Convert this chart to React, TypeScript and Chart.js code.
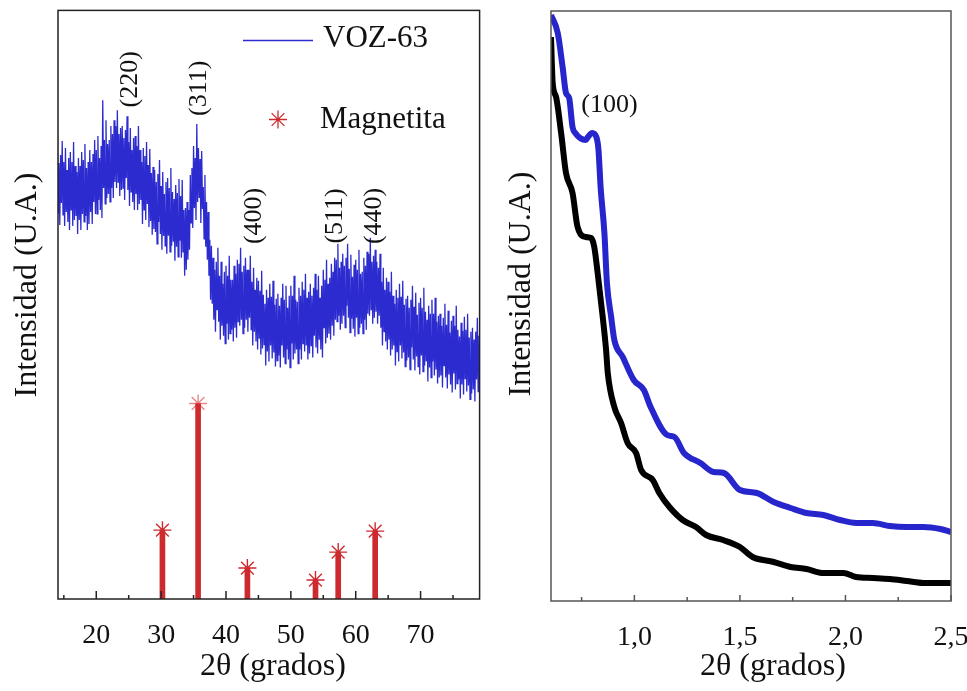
import React, { useEffect, useRef } from "react";
import { Chart, registerables } from "chart.js";
Chart.register(...registerables);

const SERIF = '"Liberation Serif", "Times New Roman", serif';

// ---------- Left panel: wide-angle XRD ----------
const xrdAngleStart = 14;
const xrdAngleStep = 0.125;
const xrdIntensity = [
  475, 387, 437, 375, 445, 397, 459, 385, // 14
  438, 374, 452, 388, 430, 378, 442, 370, // 15
  448, 390, 438, 374, 458, 380, 434, 384, // 16
  428, 366, 442, 380, 434, 370, 448, 386, // 17
  440, 378, 456, 384, 432, 370, 438, 376, // 18
  450, 388, 438, 376, 446, 398, 460, 386, // 19
  450, 386, 464, 400, 442, 390, 454, 382, // 20
  500, 412, 460, 396, 480, 402, 456, 406, // 21
  460, 398, 474, 412, 466, 402, 480, 418, // 22
  474, 412, 490, 418, 466, 404, 472, 410, // 23
  474, 412, 462, 400, 470, 422, 484, 410, // 24
  458, 394, 472, 408, 450, 398, 462, 390, // 25
  464, 406, 454, 390, 474, 396, 450, 400, // 26
  438, 376, 452, 390, 444, 380, 458, 396, // 27
  435, 373, 451, 379, 427, 365, 433, 371, // 28
  430, 368, 418, 356, 426, 378, 440, 366, // 29
  414, 350, 428, 364, 406, 354, 418, 346, // 30
  422, 364, 412, 348, 432, 354, 408, 358, // 31
  401, 339, 415, 353, 407, 343, 421, 359, // 32
  404, 342, 420, 348, 390, 324, 392, 330, // 33
  398, 340, 390, 350, 425, 377, 432, 372, // 34
  454, 392, 442, 380, 476, 398, 452, 402, // 35
  441, 377, 449, 391, 413, 361, 425, 353, // 36
  398, 340, 388, 324, 360, 300, 354, 296, // 37
  342, 280, 330, 268, 338, 290, 352, 278, // 38
  324, 260, 338, 274, 316, 264, 328, 256, // 39
  334, 276, 324, 260, 344, 266, 320, 270, // 40
  320, 258, 334, 272, 326, 262, 340, 278, // 41
  336, 274, 352, 280, 328, 266, 334, 272, // 42
  342, 280, 330, 268, 330, 282, 344, 270, // 43
  318, 254, 332, 268, 310, 258, 322, 250, // 44
  319, 261, 309, 245, 329, 251, 305, 255, // 45
  296, 234, 310, 248, 302, 238, 316, 254, // 46
  303, 241, 319, 247, 295, 233, 301, 239, // 47
  306, 244, 294, 232, 302, 254, 316, 242, // 48
  300, 236, 314, 250, 292, 240, 304, 232, // 49
  314, 256, 304, 240, 324, 246, 300, 250, // 50
  298, 236, 312, 250, 304, 240, 318, 256, // 51
  310, 248, 326, 254, 302, 240, 308, 246, // 52
  316, 254, 304, 242, 312, 264, 326, 252, // 53
  310, 246, 324, 260, 302, 250, 314, 242, // 54
  330, 272, 320, 256, 340, 262, 316, 266, // 55
  322, 260, 336, 274, 328, 264, 342, 280, // 56
  340, 278, 356, 284, 332, 270, 338, 276, // 57
  346, 284, 334, 272, 342, 294, 356, 282, // 58
  331, 267, 345, 281, 323, 271, 335, 263, // 59
  340, 282, 330, 266, 350, 272, 326, 276, // 60
  328, 266, 342, 280, 334, 270, 348, 286, // 61
  346, 284, 362, 290, 338, 276, 344, 282, // 62
  350, 288, 338, 276, 332, 284, 346, 272, // 63
  318, 254, 332, 268, 310, 258, 322, 250, // 64
  318, 260, 308, 244, 328, 250, 304, 254, // 65
  296, 234, 310, 248, 302, 238, 316, 254, // 66
  303, 241, 319, 247, 295, 233, 301, 239, // 67
  304, 242, 292, 230, 300, 252, 314, 240, // 68
  293, 229, 307, 243, 285, 233, 297, 225, // 69
  302, 244, 292, 228, 312, 234, 288, 238, // 70
  280, 218, 294, 232, 286, 222, 300, 238, // 71
  286, 224, 302, 230, 278, 216, 284, 222, // 72
  286, 224, 274, 212, 282, 234, 296, 222, // 73
  275, 211, 289, 225, 267, 215, 279, 207, // 74
  284, 226, 274, 210, 294, 216, 270, 220, // 75
  263, 201, 277, 215, 269, 205, 283, 221, // 76
  270, 208, 286, 214, 262, 200, 268, 206, // 77
  272, 210, 260, 198, 268, 220, 282, 208, // 78
  264, 206, 270, // 79
];

const magnetitaAngles = [30.2, 35.7, 43.3, 53.8, 57.3, 63.0];
const magnetitaIntensity = [69, 196, 31, 19, 47, 68];

const leftMajorTicks = [20, 30, 40, 50, 60, 70];
const leftMinorTicks = [15, 25, 35, 45, 55, 65, 75];

const peakLabels = ["(220)", "(311)", "(400)", "(511)", "(440)"];
const peakLabelAngles = [25.3, 35.8, 44.4, 56.8, 62.9];
const peakLabelLevels = [521, 512, 384, 384, 384];

// ---------- Right panel: low-angle XRD ----------
const lowAnglesBlue = [
  0.605, 0.637, 0.66, 0.676, 0.691, 0.707, 0.72, 0.77, 0.78, 0.8, 0.82, 0.83, 0.84, 0.858, 0.87,
  0.89, 0.905, 0.945, 0.997, 1.045, 1.077, 1.155, 1.19, 1.235, 1.313, 1.376, 1.424, 1.5, 1.58,
  1.66, 1.74, 1.815, 1.895, 1.974, 2.052, 2.13, 2.21, 2.29, 2.37, 2.45, 2.5,
];
const lowIntensityBlue = [
  586, 568, 534, 508, 503, 474, 468, 461, 464, 468, 464, 451, 414, 368, 318,
  284, 261, 244, 221, 211, 194, 166, 164, 148, 138, 129, 128, 111, 108,
  99, 93, 88, 86, 81, 78, 78, 75, 74, 74, 72, 69,
];
const lowAnglesBlack = [
  0.605, 0.613, 0.629, 0.653, 0.676, 0.707, 0.731, 0.77, 0.795, 0.81, 0.826, 0.85, 0.866, 0.874,
  0.905, 0.937, 0.968, 1.008, 1.032, 1.087, 1.118, 1.166, 1.229, 1.292, 1.34, 1.42, 1.5, 1.56,
  1.66, 1.74, 1.815, 1.895, 1.99, 2.05, 2.13, 2.21, 2.29, 2.37, 2.5,
];
const lowIntensityBlack = [
  564, 518, 504, 468, 428, 408, 374, 364, 363, 354, 328, 284, 251, 228,
  194, 178, 158, 148, 131, 121, 108, 94, 81, 74, 66, 61, 54, 44,
  39, 34, 32, 28, 28, 24, 23, 22, 20, 18, 18,
];

const rightMajorTicks = [1.0, 1.5, 2.0, 2.5];
const rightMinorTicks = [0.75, 1.25, 1.75, 2.25];

const BLUE = "#2b2bd0";
const RED = "#cd2a2f";

type TextItem = { text: string; x: number; y: number; rotate: boolean; size: number };

type DecorCfg = {
  frameColor: string;
  majorTicks: number[];
  minorTicks: number[];
  majorLen: number;
  minorLen: number;
  yTitle: string;
  yTitleX: number;
  yTitleY: number;
  xTitle: string;
  xTitleX: number;
  xTitleY: number;
  labels: TextItem[];
  legend?: boolean;
};

function drawStar(ctx: CanvasRenderingContext2D, x: number, y: number, r: number) {
  ctx.beginPath();
  for (let k = 0; k < 4; k++) {
    const a = (k * Math.PI) / 4;
    ctx.moveTo(x - r * Math.cos(a), y - r * Math.sin(a));
    ctx.lineTo(x + r * Math.cos(a), y + r * Math.sin(a));
  }
  ctx.stroke();
}

function decorPlugin(cfg: DecorCfg) {
  return {
    id: "decor",
    afterDraw(chart: any) {
      const ctx: CanvasRenderingContext2D = chart.ctx;
      const { left, right, top, bottom } = chart.chartArea;
      const xs = chart.scales.x;
      const ys = chart.scales.y;
      ctx.save();
      ctx.strokeStyle = cfg.frameColor;
      ctx.lineWidth = 1.5;
      ctx.strokeRect(left, top, right - left, bottom - top);
      ctx.beginPath();
      cfg.majorTicks.forEach((v) => {
        const p = xs.getPixelForValue(v);
        ctx.moveTo(p, bottom);
        ctx.lineTo(p, bottom - cfg.majorLen);
      });
      cfg.minorTicks.forEach((v) => {
        const p = xs.getPixelForValue(v);
        ctx.moveTo(p, bottom);
        ctx.lineTo(p, bottom - cfg.minorLen);
      });
      ctx.stroke();
      ctx.fillStyle = "#111";
      ctx.font = `32px ${SERIF}`;
      ctx.textAlign = "center";
      ctx.textBaseline = "middle";
      ctx.fillText(cfg.xTitle, cfg.xTitleX, cfg.xTitleY);
      ctx.save();
      ctx.translate(cfg.yTitleX, cfg.yTitleY);
      ctx.rotate(-Math.PI / 2);
      ctx.fillText(cfg.yTitle, 0, 0);
      ctx.restore();
      cfg.labels.forEach((l) => {
        const px = xs.getPixelForValue(l.x);
        const py = ys.getPixelForValue(l.y);
        ctx.font = `${l.size}px ${SERIF}`;
        ctx.save();
        ctx.translate(px, py);
        if (l.rotate) ctx.rotate(-Math.PI / 2);
        ctx.fillText(l.text, 0, 0);
        ctx.restore();
      });
      if (cfg.legend) {
        const ds = chart.data.datasets;
        ctx.font = `31px ${SERIF}`;
        ctx.textAlign = "left";
        ctx.strokeStyle = ds[0].borderColor;
        ctx.lineWidth = 1.5;
        ctx.beginPath();
        ctx.moveTo(243, 40.5);
        ctx.lineTo(313, 40.5);
        ctx.stroke();
        ctx.fillText(ds[0].label, 323, 39);
        ctx.strokeStyle = RED;
        ctx.lineWidth = 1.3;
        drawStar(ctx, 278, 119.5, 9);
        ctx.fillText(ds[2].label, 320, 120);
      }
      ctx.restore();
    },
  };
}

function LeftPanel() {
  const ref = useRef<HTMLCanvasElement>(null);
  useEffect(() => {
    const xrdPoints = xrdIntensity.map((v, i) => ({ x: xrdAngleStart + i * xrdAngleStep, y: v }));
    const stickPoints = magnetitaAngles.map((a, i) => ({ x: a, y: magnetitaIntensity[i] }));
    const labels: TextItem[] = peakLabels.map((t, i) => ({
      text: t,
      x: peakLabelAngles[i],
      y: peakLabelLevels[i],
      rotate: true,
      size: 26,
    }));
    const chart = new Chart(ref.current!, {
      type: "line",
      data: {
        datasets: [
          {
            label: "VOZ-63",
            data: xrdPoints,
            borderColor: BLUE,
            borderWidth: 1.3,
            pointRadius: 0,
            tension: 0,
          },
          {
            type: "bar",
            label: "Magnetita sticks",
            data: stickPoints,
            backgroundColor: RED,
            barThickness: 5,
            grouped: false,
          } as any,
          {
            label: "Magnetita",
            data: stickPoints,
            showLine: false,
            pointStyle: "star",
            pointRadius: 9,
            pointBorderWidth: 1.4,
            pointBorderColor: [RED, "#e8868a", RED, RED, RED, RED],
            pointBackgroundColor: RED,
          },
        ],
      },
      options: {
        animation: false,
        responsive: true,
        maintainAspectRatio: false,
        layout: { padding: { left: 58, right: 7, top: 9, bottom: 0 } },
        plugins: { legend: { display: false }, tooltip: { enabled: false } },
        scales: {
          x: {
            type: "linear",
            min: 14.1,
            max: 79.1,
            offset: false,
            grid: { display: false },
            border: { display: false },
            afterBuildTicks: (s: any) => {
              s.ticks = leftMajorTicks.map((v) => ({ value: v }));
            },
            afterFit: (s: any) => {
              s.height = 92;
            },
            ticks: {
              font: { family: SERIF, size: 28 },
              color: "#111",
              padding: 12,
              maxRotation: 0,
              autoSkip: false,
            },
          },
          y: {
            display: false,
            min: 0,
            max: 590,
          },
        },
      },
      plugins: [
        decorPlugin({
          frameColor: "#222",
          majorTicks: leftMajorTicks,
          minorTicks: leftMinorTicks,
          majorLen: 8,
          minorLen: 4,
          yTitle: "Intensidad (U.A.)",
          yTitleX: 28,
          yTitleY: 285,
          xTitle: "2θ (grados)",
          xTitleX: 273,
          xTitleY: 667,
          labels,
          legend: true,
        }),
      ],
    });
    return () => chart.destroy();
  }, []);
  return (
    <div style={{ position: "absolute", left: 0, top: 0, width: 490, height: 691 }}>
      <canvas ref={ref} />
    </div>
  );
}

function RightPanel() {
  const ref = useRef<HTMLCanvasElement>(null);
  useEffect(() => {
    const blue = lowAnglesBlue.map((a, i) => ({ x: a, y: lowIntensityBlue[i] }));
    const black = lowAnglesBlack.map((a, i) => ({ x: a, y: lowIntensityBlack[i] }));
    const chart = new Chart(ref.current!, {
      type: "line",
      data: {
        datasets: [
          {
            label: "VOZ-63",
            data: blue,
            borderColor: "#2626cc",
            borderWidth: 6,
            pointRadius: 0,
            cubicInterpolationMode: "monotone",
          },
          {
            label: "Referencia",
            data: black,
            borderColor: "#000",
            borderWidth: 6,
            pointRadius: 0,
            cubicInterpolationMode: "monotone",
          },
        ],
      },
      options: {
        animation: false,
        responsive: true,
        maintainAspectRatio: false,
        layout: { padding: { left: 61, right: 39, top: 11, bottom: 0 } },
        plugins: { legend: { display: false }, tooltip: { enabled: false } },
        scales: {
          x: {
            type: "linear",
            min: 0.605,
            max: 2.5,
            offset: false,
            grid: { display: false },
            border: { display: false },
            afterBuildTicks: (s: any) => {
              s.ticks = rightMajorTicks.map((v) => ({ value: v }));
            },
            afterFit: (s: any) => {
              s.height = 90;
            },
            ticks: {
              font: { family: SERIF, size: 28 },
              color: "#111",
              padding: 12,
              maxRotation: 0,
              autoSkip: false,
              callback: (v: any) => Number(v).toFixed(1).replace(".", ","),
            },
          },
          y: {
            display: false,
            min: 0,
            max: 590,
          },
        },
      },
      plugins: [
        decorPlugin({
          frameColor: "#555",
          majorTicks: rightMajorTicks,
          minorTicks: rightMinorTicks,
          majorLen: 6,
          minorLen: 4,
          yTitle: "Intensidad (U.A.)",
          yTitleX: 32,
          yTitleY: 284,
          xTitle: "2θ (grados)",
          xTitleX: 283,
          xTitleY: 667,
          labels: [{ text: "(100)", x: 0.882, y: 496, rotate: false, size: 26 }],
        }),
      ],
    });
    return () => chart.destroy();
  }, []);
  return (
    <div style={{ position: "absolute", left: 490, top: 0, width: 500, height: 691 }}>
      <canvas ref={ref} />
    </div>
  );
}

export default function App() {
  return (
    <div
      style={{
        position: "absolute",
        left: 0,
        top: 0,
        width: 967,
        height: 691,
        overflow: "hidden",
        background: "#fff",
      }}
    >
      <LeftPanel />
      <RightPanel />
    </div>
  );
}
